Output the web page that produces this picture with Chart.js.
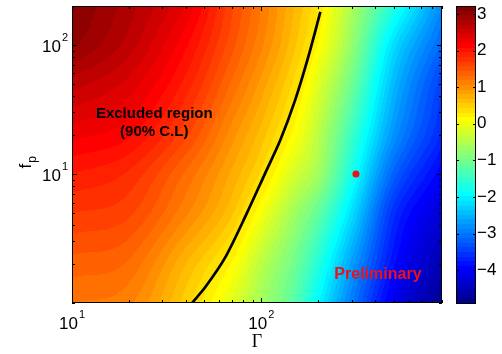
<!DOCTYPE html>
<html>
<head>
<meta charset="utf-8">
<script src="https://cdn.jsdelivr.net/npm/chart.js@4/dist/chart.umd.min.js"></script>
<style>
html,body{margin:0;padding:0;background:#fff;}
canvas{display:block;}
</style>
</head>
<body>
<canvas id="limitChart" width="502" height="354"></canvas>
<script>
// grid of the map (Gamma along x, f_p along y)
const gammaGrid = [10, 20, 40, 70, 100, 150, 200, 300, 500, 900];
const fpGrid = [1, 2, 5, 10, 20, 50, 100, 200];
// one row per f_p value, one column per Gamma value
const fieldValues = [
  [1.19, 1.09, 0.48, -0.13, -0.64, -1.25, -1.96, -2.97, -4.09, -4.80],
  [1.39, 1.29, 0.68, 0.15, -0.43, -1.04, -1.65, -2.67, -3.85, -4.60],
  [1.70, 1.60, 1.09, 0.58, 0.05, -0.64, -1.14, -2.16, -3.58, -4.29],
  [1.95, 1.80, 1.29, 0.78, 0.40, -0.23, -0.64, -1.75, -3.17, -3.99],
  [2.25, 2.10, 1.60, 0.99, 0.62, 0.10, -0.43, -1.45, -2.77, -3.68],
  [2.65, 2.41, 1.90, 1.29, 0.89, 0.38, -0.13, -1.04, -2.46, -3.48],
  [3.00, 2.65, 2.10, 1.49, 1.09, 0.58, 0.15, -0.74, -2.16, -3.17],
  [3.12, 2.77, 2.31, 1.60, 1.19, 0.68, 0.30, -0.54, -1.65, -2.87]
];
const colorMin = -4.9;
const colorMax = 3.22;

// 90% C.L. contour
const limitGamma = [43, 50.6, 64.6, 84, 105, 126, 151, 177, 205];
const limitFp = [1.0, 1.33, 2.27, 4.99, 10.2, 18.3, 37.5, 80.7, 180];

// marked point
const pointGamma = [316];
const pointFp = [10];

const xTickValues = [10, 100];
const xTickExponents = ['1', '2'];
const yTickValues = [10, 100];
const yTickExponents = ['1', '2'];
const cbTickValues = [-4, -3, -2, -1, 0, 1, 2, 3];
const cbTickLabels = ['\u22124', '\u22123', '\u22122', '\u22121', '0', '1', '2', '3'];

const SANS = "'Liberation Sans', Arial, Helvetica, sans-serif";

function clamp01(a) { return Math.max(0, Math.min(1, a)); }

// matlab jet(64)
function jet64(v) {
  const t = (v - colorMin) / (colorMax - colorMin);
  const k = Math.max(0, Math.min(63, Math.floor(t * 64)));
  const s = (k + 1) / 64;
  return [
    Math.round(255 * clamp01(Math.min(4 * s - 1.5, -4 * s + 4.5))),
    Math.round(255 * clamp01(Math.min(4 * s - 0.5, -4 * s + 3.5))),
    Math.round(255 * clamp01(Math.min(4 * s + 0.5, -4 * s + 2.5)))
  ];
}

const gLog = gammaGrid.map(Math.log10);
const fLog = fpGrid.map(Math.log10);

// cubic hermite between grid nodes, so the bands bend smoothly
function hermite(xs, ys, x) {
  const n = xs.length;
  let i = 0;
  while (i < n - 2 && x > xs[i + 1]) i++;
  const h = xs[i + 1] - xs[i];
  const t = clamp01((x - xs[i]) / h);
  const slope = k => k === 0 ? (ys[1] - ys[0]) / (xs[1] - xs[0])
    : k === n - 1 ? (ys[n - 1] - ys[n - 2]) / (xs[n - 1] - xs[n - 2])
    : (ys[k + 1] - ys[k - 1]) / (xs[k + 1] - xs[k - 1]);
  const m0 = slope(i) * h, m1 = slope(i + 1) * h;
  const t2 = t * t, t3 = t2 * t;
  return (2 * t3 - 3 * t2 + 1) * ys[i] + (t3 - 2 * t2 + t) * m0 +
         (-2 * t3 + 3 * t2) * ys[i + 1] + (t3 - t2) * m1;
}

const fieldPlugin = {
  id: 'field',
  beforeDatasetsDraw(chart) {
    const {ctx, chartArea: a, scales} = chart;
    const x = scales.x, y = scales.y;
    const w = Math.round(a.right - a.left), h = Math.round(a.bottom - a.top);
    const img = ctx.createImageData(w, h);
    const rowLog = [];
    for (let j = 0; j < h; j++) rowLog.push(Math.log10(y.getValueForPixel(a.top + j + 0.5)));
    for (let i = 0; i < w; i++) {
      const lg = Math.log10(x.getValueForPixel(a.left + i + 0.5));
      const col = fieldValues.map(row => hermite(gLog, row, lg));
      for (let j = 0; j < h; j++) {
        const c = jet64(hermite(fLog, col, rowLog[j]));
        const p = (j * w + i) * 4;
        img.data[p] = c[0]; img.data[p + 1] = c[1]; img.data[p + 2] = c[2]; img.data[p + 3] = 255;
      }
    }
    ctx.putImageData(img, Math.round(a.left), Math.round(a.top));
  }
};

function logMinor(min, max) {
  const out = [];
  for (let e = Math.floor(Math.log10(min)); e <= Math.ceil(Math.log10(max)); e++) {
    for (let m = 1; m < 10; m++) {
      const v = m * Math.pow(10, e);
      if (v >= min * 0.999 && v <= max * 1.001) out.push(v);
    }
  }
  return out;
}

const notes = [
  {text: 'Excluded region', gamma: 27.2, fp: 29.2, color: '#000', font: 'bold 15px ' + SANS},
  {text: '(90% C.L)', gamma: 27.2, fp: 21.2, color: '#000', font: 'bold 15px ' + SANS},
  {text: 'Preliminary', gamma: 413, fp: 1.65, color: '#f01010', font: 'bold 16px ' + SANS}
];

function drawPower(ctx, exp, px, baseline, align) {
  ctx.font = '17px ' + SANS;
  const bw = ctx.measureText('10').width;
  ctx.font = '11px ' + SANS;
  const ew = ctx.measureText(exp).width;
  const total = bw + 1 + ew;
  const x0 = align === 'center' ? px - total / 2 : px - total;
  ctx.font = '17px ' + SANS;
  ctx.fillText('10', x0, baseline);
  ctx.font = '11px ' + SANS;
  ctx.fillText(exp, x0 + bw + 1, baseline - 11);
}

const framePlugin = {
  id: 'frame',
  afterDatasetsDraw(chart) {
    const {ctx, chartArea: a, scales} = chart;
    const x = scales.x, y = scales.y, cb = scales.cb;
    ctx.save();

    // notes
    ctx.textAlign = 'center';
    ctx.textBaseline = 'middle';
    notes.forEach(n => {
      ctx.font = n.font;
      ctx.fillStyle = n.color;
      ctx.fillText(n.text, x.getPixelForValue(n.gamma), y.getPixelForValue(n.fp));
    });

    // axes box and inward ticks
    ctx.strokeStyle = '#000';
    ctx.lineWidth = 1;
    ctx.strokeRect(a.left + 0.5, a.top + 0.5, a.right - a.left - 1, a.bottom - a.top - 1);
    ctx.beginPath();
    logMinor(x.min, x.max).forEach(v => {
      const len = xTickValues.includes(v) ? 5 : 3;
      const px = Math.round(x.getPixelForValue(v)) + 0.5;
      ctx.moveTo(px, a.bottom); ctx.lineTo(px, a.bottom - len);
      ctx.moveTo(px, a.top); ctx.lineTo(px, a.top + len);
    });
    logMinor(y.min, y.max).forEach(v => {
      const len = yTickValues.includes(v) ? 5 : 3;
      const py = Math.round(y.getPixelForValue(v)) + 0.5;
      ctx.moveTo(a.left, py); ctx.lineTo(a.left + len, py);
      ctx.moveTo(a.right, py); ctx.lineTo(a.right - len, py);
    });
    ctx.stroke();

    // colour bar
    const bx = cb.left + 14, bw = 20;
    for (let py = Math.floor(cb.top); py < cb.bottom; py++) {
      const c = jet64(cb.getValueForPixel(py + 0.5));
      ctx.fillStyle = 'rgb(' + c.join(',') + ')';
      ctx.fillRect(bx, py, bw, 1);
    }
    ctx.strokeRect(bx + 0.5, cb.top + 0.5, bw - 1, cb.bottom - cb.top);
    ctx.beginPath();
    cbTickValues.forEach(v => {
      const py = Math.round(cb.getPixelForValue(v)) + 0.5;
      ctx.moveTo(bx, py); ctx.lineTo(bx + 3, py);
      ctx.moveTo(bx + bw, py); ctx.lineTo(bx + bw - 3, py);
    });
    ctx.stroke();
    ctx.restore();
  },
  afterDraw(chart) {
    const {ctx, chartArea: a, scales} = chart;
    ctx.save();
    ctx.fillStyle = '#000';
    ctx.textBaseline = 'alphabetic';
    ctx.textAlign = 'left';

    // power-of-ten tick labels
    xTickValues.forEach((v, k) => {
      drawPower(ctx, xTickExponents[k], scales.x.getPixelForValue(v), a.bottom + 26, 'center');
    });
    yTickValues.forEach((v, k) => {
      drawPower(ctx, yTickExponents[k], a.left - 4, scales.y.getPixelForValue(v) + 7, 'right');
    });

    // y axis title f_p
    ctx.translate(31, (a.top + a.bottom) / 2 + 6);
    ctx.rotate(-Math.PI / 2);
    ctx.font = '17px ' + SANS;
    const fw = ctx.measureText('f').width;
    ctx.fillText('f', -8, 0);
    ctx.font = '12px ' + SANS;
    ctx.fillText('p', -8 + fw + 1, 5);
    ctx.restore();
  }
};

Chart.defaults.font.family = SANS;
Chart.defaults.color = '#000';

new Chart(document.getElementById('limitChart'), {
  type: 'scatter',
  data: {
    datasets: [
      {
        label: '90% C.L.',
        data: limitGamma.map((g, i) => ({x: g, y: limitFp[i]})),
        showLine: true,
        borderColor: '#000',
        borderWidth: 2.7,
        pointRadius: 0,
        tension: 0.3
      },
      {
        label: 'point',
        data: pointGamma.map((g, i) => ({x: g, y: pointFp[i]})),
        backgroundColor: '#f01010',
        borderWidth: 0,
        pointRadius: 3.5
      }
    ]
  },
  options: {
    responsive: false,
    animation: false,
    devicePixelRatio: 1,
    layout: {autoPadding: false, padding: {top: 6, left: 0, right: 0, bottom: 0}},
    plugins: {legend: {display: false}, tooltip: {enabled: false}},
    scales: {
      x: {
        type: 'logarithmic',
        min: 10,
        max: 900,
        grid: {display: false, drawTicks: false},
        border: {display: false},
        afterBuildTicks: s => { s.ticks = xTickValues.map(v => ({value: v})); },
        afterFit: s => { s.height = 51; s.paddingLeft = 0; s.paddingRight = 0; },
        ticks: {display: false},
        title: {
          display: true,
          text: '\u0393',
          font: {family: "'Liberation Serif', 'Times New Roman', serif", size: 18},
          padding: {top: 0, bottom: 1}
        }
      },
      y: {
        type: 'logarithmic',
        min: 1,
        max: 200,
        grid: {display: false, drawTicks: false},
        border: {display: false},
        afterBuildTicks: s => { s.ticks = yTickValues.map(v => ({value: v})); },
        afterFit: s => { s.width = 72; s.paddingTop = 0; s.paddingBottom = 0; },
        ticks: {display: false}
      },
      cb: {
        type: 'linear',
        position: 'right',
        axis: 'y',
        min: colorMin,
        max: colorMax,
        grid: {display: false, drawTicks: false},
        border: {display: false},
        afterBuildTicks: s => { s.ticks = cbTickValues.map(v => ({value: v})); },
        afterFit: s => { s.width = 60; s.paddingTop = 0; s.paddingBottom = 0; },
        ticks: {
          padding: 35,
          font: {size: 17},
          callback: v => cbTickLabels[cbTickValues.indexOf(v)]
        }
      }
    }
  },
  plugins: [fieldPlugin, framePlugin]
});
</script>
</body>
</html>
